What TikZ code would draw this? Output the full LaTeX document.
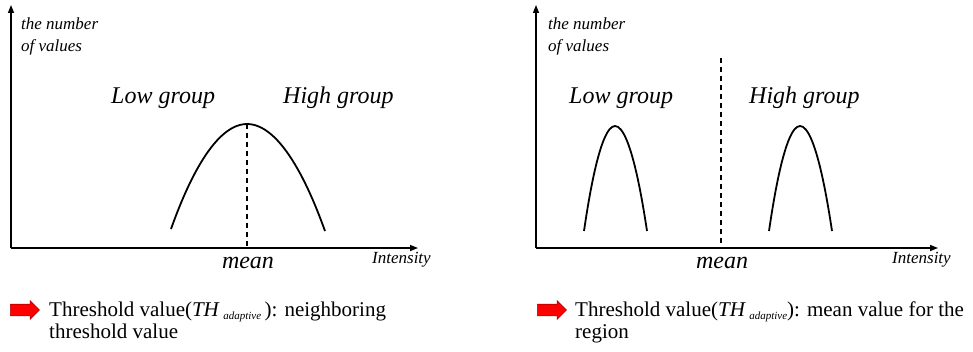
\documentclass[tikz,border=0pt]{standalone}
\usepackage{fontspec}
\setmainfont{Liberation Serif}
\usetikzlibrary{shapes.arrows,arrows.meta}

\newcommand{\thadapt}{\textit{TH}\,\raisebox{-0.4ex}{\fontsize{11}{11}\selectfont\itshape adaptive}}

\begin{document}
\begin{tikzpicture}[x=1pt, y=1pt,
  axis/.style={line width=1.4pt, -{Triangle[length=8pt,width=6pt]}},
  curve/.style={line width=1.8pt},
  meanline/.style={line width=1.4pt, dash pattern=on 5pt off 4pt},
  lbl/.style={font=\fontsize{17}{22}\selectfont\itshape, align=left, inner sep=0pt},
  grp/.style={font=\fontsize{24}{28}\selectfont\itshape, inner sep=0pt},
  note/.style={font=\fontsize{21}{22}\selectfont, align=left, inner sep=0pt},
  redarr/.style={single arrow, fill=red, draw=red!70!black, line width=0.6pt,
    minimum height=29pt, inner xsep=0pt, inner ysep=5.5pt,
    single arrow head extend=3.5pt}]
\useasboundingbox (0,0) rectangle (973,351);

% left panel: one group
\coordinate (o1) at (11,103);
\coordinate (y1) at (11,346);
\coordinate (x1) at (418,103);
\coordinate (p1) at (247,227);
\coordinate (m1) at (247,103);
\draw[axis] (o1) -- (y1);
\draw[axis] (o1) -- (x1);
\draw[curve] (171,122) parabola bend (p1) (325,120);
\draw[meanline] (p1) -- (m1);
\node[lbl, anchor=north west] (ylab1) at (21,333) {the number\\of values};
\node[grp, anchor=base west] (low1) at (111,247) {Low group};
\node[grp, anchor=base west] (high1) at (283,247) {High group};
\node[grp, anchor=base] (mean1) at (248,83) {mean};
\node[lbl, anchor=base west] (int1) at (372,88) {Intensity};

% right panel: two groups
\coordinate (o2) at (536,103);
\coordinate (y2) at (536,346);
\coordinate (x2) at (938,103);
\coordinate (d2) at (721,293);
\coordinate (m2) at (721,103);
\draw[axis] (o2) -- (y2);
\draw[axis] (o2) -- (x2);
\draw[curve] (584,120) parabola bend (615,225) (647,120);
\draw[curve] (769,120) parabola bend (800,225) (832,120);
\draw[meanline] (d2) -- (m2);
\node[lbl, anchor=north west] (ylab2) at (548,333) {the number\\of values};
\node[grp, anchor=base west] (low2) at (569,247) {Low group};
\node[grp, anchor=base west] (high2) at (749,247) {High group};
\node[grp, anchor=base] (mean2) at (722,83) {mean};
\node[lbl, anchor=base west] (int2) at (892,88) {Intensity};

% threshold notes
\node[redarr] (ra1) at (22,41) {};
\node[note, anchor=base west] (note1) at (49,13)
  {Threshold value(\thadapt\,): neighboring\\threshold value};
\node[redarr] (ra2) at (549,41) {};
\node[note, anchor=base west] (note2) at (575,13)
  {Threshold value(\thadapt): mean value for the\\region};
\end{tikzpicture}
\end{document}
